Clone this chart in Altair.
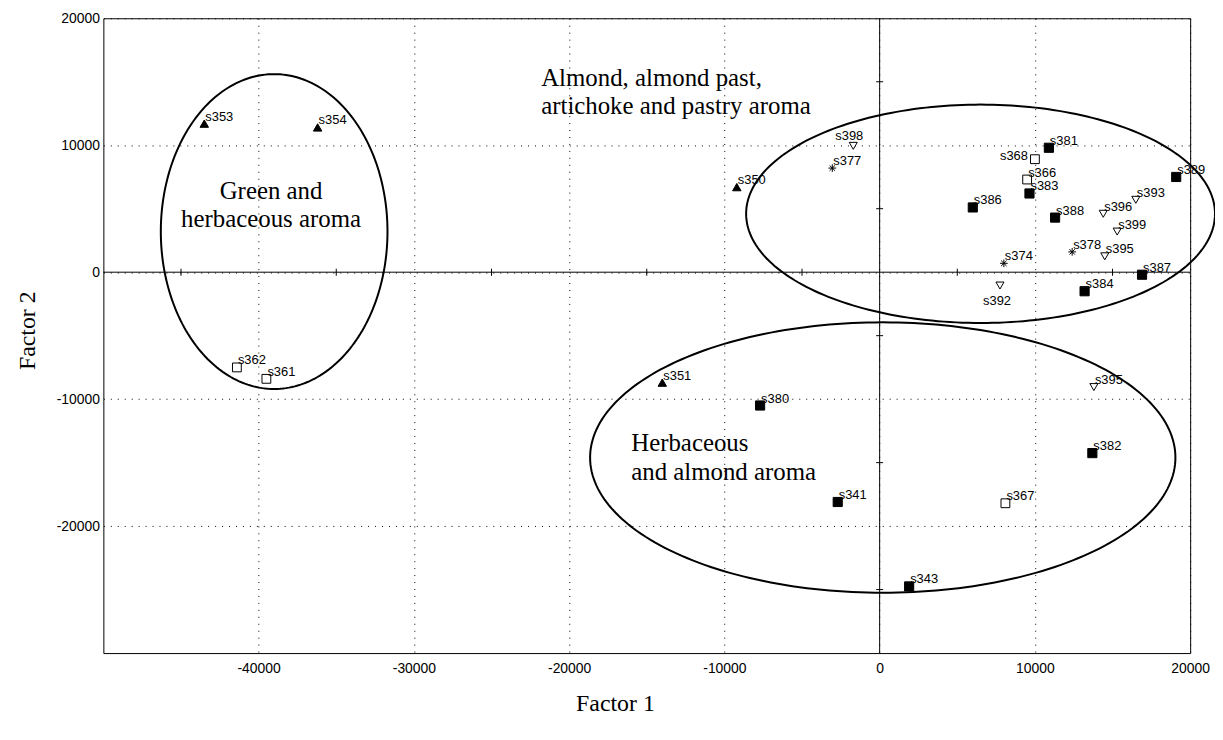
import altair as alt
import numpy as np
import pandas as pd

# ---------------- data ----------------
names = ["s353", "s354", "s362", "s361", "s350", "s351", "s380", "s341", "s343",
         "s377", "s398", "s381", "s368", "s366", "s383", "s386", "s388", "s389",
         "s393", "s396", "s399", "s395", "s378", "s374", "s387", "s384", "s392",
         "s395", "s382", "s367"]
kinds = ["ftri", "ftri", "osq", "osq", "ftri", "ftri", "fsq", "fsq", "fsq",
         "ast", "otri", "fsq", "osq", "osq", "fsq", "fsq", "fsq", "fsq",
         "otri", "otri", "otri", "otri", "ast", "ast", "fsq", "fsq", "otri",
         "otri", "fsq", "osq"]
factor1 = [-43500, -36200, -41400, -39500, -9200, -14000, -7700, -2700, 1900,
           -3050, -1700, 10900, 10000, 9500, 9650, 6000, 11300, 19100,
           16500, 14400, 15300, 14500, 12400, 8000, 16900, 13200, 7750,
           13800, 13700, 8100]
factor2 = [11700, 11400, -7500, -8400, 6700, -8700, -10500, -18100, -24750,
           8200, 9950, 9800, 8900, 7300, 6200, 5100, 4300, 7500,
           5700, 4600, 3200, 1250, 1600, 700, -200, -1500, -1050,
           -9050, -14250, -18200]
label_pos = ["ur", "ur", "ur", "ur", "ur", "ur", "ur", "ur", "ur",
             "ur", "above", "ur", "left", "ur", "ur", "ur", "ur", "ur",
             "ur", "ur", "ur", "ur", "ur", "ur", "ur", "ur", "below",
             "ur", "ur", "ur"]

# ellipses: centre and semi-axes
ell_cx = [-39000, 6500, 200]
ell_cy = [3200, 4600, -14600]
ell_rx = [7300, 15100, 18850]
ell_ry = [12400, 8600, 10650]

# annotations
ann_text = ["Green and\nherbaceous aroma",
            "Almond, almond past,\nartichoke and pastry aroma",
            "Herbaceous\nand almond aroma"]
ann_x = [-39200, -21800, -16000]
ann_y = [5800, 14700, -14100]
ann_align = ["center", "left", "left"]

x_ticks = [-40000, -30000, -20000, -10000, 0, 10000, 20000]
y_ticks = [-20000, -10000, 0, 10000, 20000]
minor_x = [-45000, -35000, -25000, -15000, -5000, 5000, 15000]
minor_y = [-25000, -15000, -5000, 5000, 15000]

# ---------------- tables ----------------
pts = pd.DataFrame({"name": names, "kind": kinds, "x": factor1, "y": factor2,
                    "pos": label_pos})

t = np.linspace(0, 2 * np.pi, 241)
ell_frames = []
for i in range(len(ell_cx)):
    ell_frames.append(pd.DataFrame({
        "id": i, "t": t,
        "x": ell_cx[i] + ell_rx[i] * np.cos(t),
        "y": ell_cy[i] + ell_ry[i] * np.sin(t)}))
ell = pd.concat(ell_frames, ignore_index=True)

ann = pd.DataFrame({"text": ann_text, "x": ann_x, "y": ann_y, "align": ann_align})

xenc = alt.X("x:Q",
             scale=alt.Scale(domain=[-50000, 20000], nice=False, zero=False),
             axis=alt.Axis(values=x_ticks, labelExpr="'' + datum.value",
                           title="Factor 1", titleX=515, titleY=58,
                           titleAlign="center", titleBaseline="alphabetic",
                           labelPadding=9, labelFlush=False))
yenc = alt.Y("y:Q",
             scale=alt.Scale(domain=[-30000, 20000], nice=False, zero=False),
             axis=alt.Axis(values=y_ticks, labelExpr="'' + datum.value",
                           title="Factor 2", titleX=-76, titleY=314,
                           titleAngle=270, titleAlign="center",
                           titleBaseline="middle",
                           labelPadding=4, labelFlush=False))

ASTERISK = "M-1,0L1,0M0,-1L0,1M-0.7,-0.7L0.7,0.7M-0.7,0.7L0.7,-0.7"
kind_domain = ["fsq", "osq", "ftri", "otri", "ast"]
shape_range = ["square", "square", "triangle-up", "triangle-down", ASTERISK]
fill_range = ["black", "white", "black", "white", "white"]
size_range = [85, 60, 95, 115, 70]
stroke_range = [1, 1, 1, 1, 1.6]

ellipses = alt.Chart(ell).mark_line(color="black", strokeWidth=2, clip=False).encode(
    x=xenc, y=yenc, detail="id:N", order="t:Q")

vzero = alt.Chart(pd.DataFrame({"x": [0]})).mark_rule(color="black", strokeWidth=1).encode(x=xenc)
hzero = alt.Chart(pd.DataFrame({"y": [0]})).mark_rule(color="black", strokeWidth=1).encode(y=yenc)

xt = alt.Chart(pd.DataFrame({"x": minor_x, "y": [0] * len(minor_x)})).mark_tick(
    orient="vertical", size=7, thickness=1, color="black", opacity=1).encode(x=xenc, y=yenc)
yt = alt.Chart(pd.DataFrame({"x": [0] * len(minor_y), "y": minor_y})).mark_tick(
    orient="horizontal", size=7, thickness=1, color="black", opacity=1).encode(x=xenc, y=yenc)

points = alt.Chart(pts).mark_point(filled=True, opacity=1, stroke="black").encode(
    x=xenc, y=yenc,
    shape=alt.Shape("kind:N", scale=alt.Scale(domain=kind_domain, range=shape_range), legend=None),
    fill=alt.Fill("kind:N", scale=alt.Scale(domain=kind_domain, range=fill_range), legend=None),
    size=alt.Size("kind:N", scale=alt.Scale(domain=kind_domain, range=size_range), legend=None),
    strokeWidth=alt.StrokeWidth("kind:N", scale=alt.Scale(domain=kind_domain, range=stroke_range),
                                legend=None))

lab_font = dict(font="Liberation Sans", fontSize=13, color="black")
lab_ur = alt.Chart(pts).transform_filter("datum.pos == 'ur'").mark_text(
    align="left", baseline="alphabetic", dx=1, dy=-3, **lab_font).encode(x=xenc, y=yenc, text="name:N")
lab_left = alt.Chart(pts).transform_filter("datum.pos == 'left'").mark_text(
    align="right", baseline="middle", dx=-7, dy=-3, **lab_font).encode(x=xenc, y=yenc, text="name:N")
lab_above = alt.Chart(pts).transform_filter("datum.pos == 'above'").mark_text(
    align="center", baseline="alphabetic", dx=-4, dy=-6, **lab_font).encode(x=xenc, y=yenc, text="name:N")
lab_below = alt.Chart(pts).transform_filter("datum.pos == 'below'").mark_text(
    align="center", baseline="top", dx=-3, dy=10, **lab_font).encode(x=xenc, y=yenc, text="name:N")

ann_font = dict(font="Liberation Serif", fontSize=25, lineHeight=29, color="black",
                baseline="alphabetic", lineBreak="\n")
ann_c = alt.Chart(ann).transform_filter("datum.align == 'center'").mark_text(
    align="center", **ann_font).encode(x=xenc, y=yenc, text="text:N")
ann_l = alt.Chart(ann).transform_filter("datum.align == 'left'").mark_text(
    align="left", **ann_font).encode(x=xenc, y=yenc, text="text:N")

chart = alt.layer(
    ellipses, vzero, hzero, xt, yt, points,
    lab_ur, lab_left, lab_above, lab_below, ann_c, ann_l
).properties(
    width=1094, height=639,
    autosize=alt.AutoSizeParams(type="none"),
    padding={"left": 96, "top": 8, "right": 25, "bottom": 60},
    background="white",
).configure_view(
    stroke="black", strokeWidth=1
).configure_axis(
    grid=True, gridColor="black", gridDash=[1, 6], gridWidth=1, gridOpacity=1,
    ticks=False, domain=False,
    labelFont="Liberation Sans", labelFontSize=14, labelColor="black",
    titleFont="Liberation Serif", titleFontSize=24, titleFontWeight="normal",
    titleColor="black",
)

chart.save("out.html", embed_options={"renderer": "svg", "actions": False})
